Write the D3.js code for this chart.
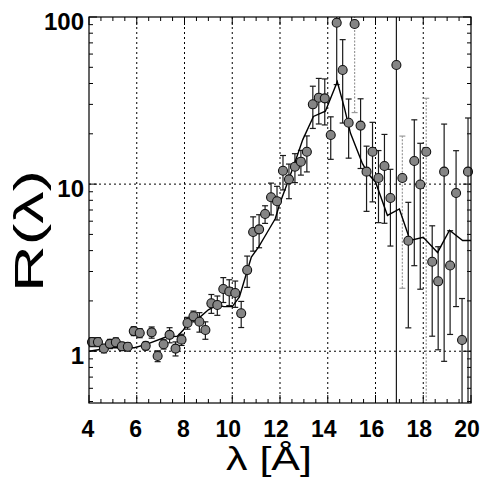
<!DOCTYPE html>
<html>
<head>
<meta charset="utf-8">
<script src="https://cdn.jsdelivr.net/npm/d3@7.9.0/dist/d3.min.js"></script>
<style>
  html, body { margin: 0; padding: 0; background: #fff; }
  svg { display: block; font-family: "Liberation Sans", Arial, sans-serif; }
</style>
</head>
<body>
<svg id="chart" width="481" height="478"></svg>
<script>
// measured ratio R(lambda), one point per 0.25 A bin
const wavelengths = [
  4.125, 4.375, 4.625, 4.875, 5.125, 5.375, 5.625, 5.875,
  6.125, 6.375, 6.625, 6.875, 7.125, 7.375, 7.625, 7.875,
  8.125, 8.375, 8.625, 8.875, 9.125, 9.375, 9.625, 9.875,
  10.125, 10.375, 10.625, 10.875, 11.125, 11.375, 11.625, 11.875,
  12.125, 12.375, 12.625, 12.875, 13.125, 13.375, 13.625, 13.875,
  14.125, 14.375, 14.625, 14.875, 15.125, 15.375, 15.625, 15.875,
  16.125, 16.375, 16.625, 16.875, 17.125, 17.375, 17.625, 17.875,
  18.125, 18.375, 18.625, 18.875, 19.125, 19.375, 19.625, 19.875
];
const ratio = [
  1.135, 1.135, 1.038, 1.107, 1.132, 1.07, 1.063, 1.32,
  1.285, 1.077, 1.297, 0.936, 1.101, 1.253, 1.037, 1.173,
  1.475, 1.618, 1.501, 1.339, 1.935, 1.89, 2.357, 2.277,
  2.23, 1.686, 3.06, 5.17, 5.36, 6.62, 8.34, 7.9,
  12.03, 10.68, 12.71, 13.62, 15.63, 30.03, 32.9, 32.6,
  19.67, 92.4, 48.2, 23.3, 90.8, 22.4, 11.87, 15.63,
  10.88, 12.83, 8.26, 51.6, 10.88, 4.58, 13.75, 9.95,
  15.63, 3.43, 2.62, 11.87, 3.26, 8.85, 1.167, 11.87
];
const ratioErr = [
  0.07, 0.07, 0.06, 0.07, 0.07, 0.06, 0.06, 0.08,
  0.08, 0.06, 0.1, 0.07, 0.07, 0.13, 0.1, 0.09,
  0.12, 0.12, 0.2, 0.16, 0.25, 0.25, 0.4, 0.4,
  0.4, 0.3, 0.65, 1.2, 1.2, 0.8, 1.8, 1.8,
  2.8, 2.5, 2.5, 2.3, 3.8, 8.5, 10, 10,
  5.6, 53, 25, 9, 64, 10, 5, 7.8,
  5, 7, 4, 60, 8.5, 3.2, 10.5, 7.6,
  17, 2.2, 1.6, 11, 2, 7, 0.9, 13
];
// bins whose error bars are printed in light grey
const fadedBins = [15.125, 17.125, 18.125];

// model curve
const modelWl = [
  4.0, 4.9, 5.9, 6.4, 7.25, 7.7, 7.95, 8.25, 8.65, 9.0,
  9.35, 9.65, 10.0, 10.3, 10.55, 10.8, 11.1, 11.45, 11.8, 12.0,
  12.35, 12.7, 12.95, 13.4, 13.9, 14.4, 14.7, 14.95, 15.45, 15.7,
  16.0, 16.5, 17.0, 17.45, 18.0, 18.6, 19.1, 19.65, 20.0
];
const modelR = [
  1.0, 1.05, 1.05, 1.1, 1.22, 1.23, 1.34, 1.52, 1.6, 1.77,
  1.89, 1.85, 1.85, 2.11, 2.78, 3.66, 4.2, 5.1, 6.2, 7.7,
  10.5, 14.5, 18.4, 25.4, 27.3, 41.0, 28.5, 20.2, 13.3, 11.5,
  10.3, 6.5, 7.1, 4.6, 4.8, 3.9, 5.3, 4.6, 4.6
];

const xTicks = [4, 6, 8, 10, 12, 14, 16, 18, 20];
const yTicks = [1, 10, 100];
const xLabel = 'λ [Å]';
const yLabel = 'R(λ)';

const plotLeft = 89, plotRight = 471, plotTop = 17, plotBottom = 403;

const x = d3.scaleLinear().domain([4, 20]).range([plotLeft, plotRight]);
const y = d3.scaleLog().domain([0.49, 100]).range([plotBottom, plotTop]);

const svg = d3.select('#chart');
svg.append('rect').attr('width', 481).attr('height', 478).attr('fill', '#fff');

svg.append('clipPath').attr('id', 'plot-clip')
  .append('rect')
  .attr('x', plotLeft).attr('y', plotTop)
  .attr('width', plotRight - plotLeft).attr('height', plotBottom - plotTop);

// dotted grid
const grid = svg.append('g').attr('stroke', '#000').attr('stroke-dasharray', '2,3').attr('stroke-width', 1);
grid.selectAll('line.v')
  .data(xTicks.slice(1, -1))
  .join('line')
  .attr('class', 'v')
  .attr('x1', d => x(d)).attr('x2', d => x(d))
  .attr('y1', plotTop).attr('y2', plotBottom);
grid.selectAll('line.h')
  .data(yTicks.filter(d => d < 100))
  .join('line')
  .attr('class', 'h')
  .attr('x1', plotLeft).attr('x2', plotRight)
  .attr('y1', d => y(d)).attr('y2', d => y(d));

// inward ticks on all four sides
const xMinor = d3.range(4, 20.01, 0.5);
const yMinor = [];
[0.1, 1, 10].forEach(dec => d3.range(2, 10).forEach(k => {
  const v = dec * k;
  if (v >= 0.49 && v < 100) yMinor.push(v);
}));
const yAll = yMinor.concat(yTicks);

const ticks = svg.append('g').attr('stroke', '#000').attr('stroke-width', 1);
ticks.selectAll('line.xb')
  .data(xMinor)
  .join('line')
  .attr('class', 'xb')
  .attr('x1', d => x(d)).attr('x2', d => x(d))
  .attr('y1', plotBottom).attr('y2', d => plotBottom - (d % 2 === 0 ? 8 : 4));
ticks.selectAll('line.xt')
  .data(xMinor)
  .join('line')
  .attr('class', 'xt')
  .attr('x1', d => x(d)).attr('x2', d => x(d))
  .attr('y1', plotTop).attr('y2', d => plotTop + (d % 2 === 0 ? 8 : 4));
ticks.selectAll('line.yl')
  .data(yAll)
  .join('line')
  .attr('class', 'yl')
  .attr('y1', d => y(d)).attr('y2', d => y(d))
  .attr('x1', plotLeft).attr('x2', d => plotLeft + (yTicks.includes(d) ? 8 : 4));
ticks.selectAll('line.yr')
  .data(yAll)
  .join('line')
  .attr('class', 'yr')
  .attr('y1', d => y(d)).attr('y2', d => y(d))
  .attr('x1', plotRight).attr('x2', d => plotRight - (yTicks.includes(d) ? 8 : 4));

const plot = svg.append('g').attr('clip-path', 'url(#plot-clip)');

const points = wavelengths.map((w, i) => ({
  w: w,
  r: ratio[i],
  lo: ratio[i] - ratioErr[i],
  hi: ratio[i] + ratioErr[i],
  faded: fadedBins.includes(w)
}));

// error bars
plot.append('g')
  .selectAll('g')
  .data(points)
  .join('g')
  .attr('stroke', d => d.faded ? '#9a9a9a' : '#1a1a1a')
  .attr('stroke-width', 1.2)
  .each(function (d) {
    const g = d3.select(this);
    const yLo = d.lo > 0 ? y(d.lo) : plotBottom + 5;
    const yHi = y(d.hi);
    g.append('line')
      .attr('stroke-dasharray', d.faded ? '2,1.5' : null)
      .attr('x1', x(d.w)).attr('x2', x(d.w))
      .attr('y1', yLo).attr('y2', yHi);
    [yLo, yHi].forEach(v => {
      g.append('line')
        .attr('x1', x(d.w) - 3).attr('x2', x(d.w) + 3)
        .attr('y1', v).attr('y2', v);
    });
  });

// model line
plot.append('path')
  .datum(modelWl.map((w, i) => [w, modelR[i]]))
  .attr('fill', 'none')
  .attr('stroke', '#000')
  .attr('stroke-width', 1.4)
  .attr('d', d3.line().x(d => x(d[0])).y(d => y(d[1])));

// data points
svg.append('g')
  .selectAll('circle')
  .data(points)
  .join('circle')
  .attr('cx', d => x(d.w))
  .attr('cy', d => y(d.r))
  .attr('r', 4.5)
  .attr('fill', '#858585')
  .attr('stroke', '#111')
  .attr('stroke-width', 1.1);

// frame
svg.append('rect')
  .attr('x', plotLeft).attr('y', plotTop)
  .attr('width', plotRight - plotLeft).attr('height', plotBottom - plotTop)
  .attr('fill', 'none').attr('stroke', '#000').attr('stroke-width', 1.2);

// tick labels
svg.append('g')
  .selectAll('text')
  .data(xTicks)
  .join('text')
  .attr('x', d => x(d) - (d >= 10 ? 4 : 1))
  .attr('y', 437)
  .attr('text-anchor', 'middle')
  .attr('font-size', 23)
  .attr('font-weight', 'bold')
  .text(d => d);

svg.append('g')
  .selectAll('text')
  .data(yTicks)
  .join('text')
  .attr('x', 84)
  .attr('y', d => y(d) + 13)
  .attr('text-anchor', 'end')
  .attr('font-size', 24)
  .attr('font-weight', 'bold')
  .text(d => d);

// axis titles
svg.append('text')
  .attr('x', 269)
  .attr('y', 470)
  .attr('text-anchor', 'middle')
  .attr('font-size', 34)
  .attr('textLength', 86)
  .attr('lengthAdjust', 'spacingAndGlyphs')
  .text(xLabel);

svg.append('text')
  .attr('transform', 'translate(43,231) rotate(-90)')
  .attr('text-anchor', 'middle')
  .attr('font-size', 40)
  .attr('textLength', 122)
  .attr('lengthAdjust', 'spacingAndGlyphs')
  .text(yLabel);
</script>
</body>
</html>
